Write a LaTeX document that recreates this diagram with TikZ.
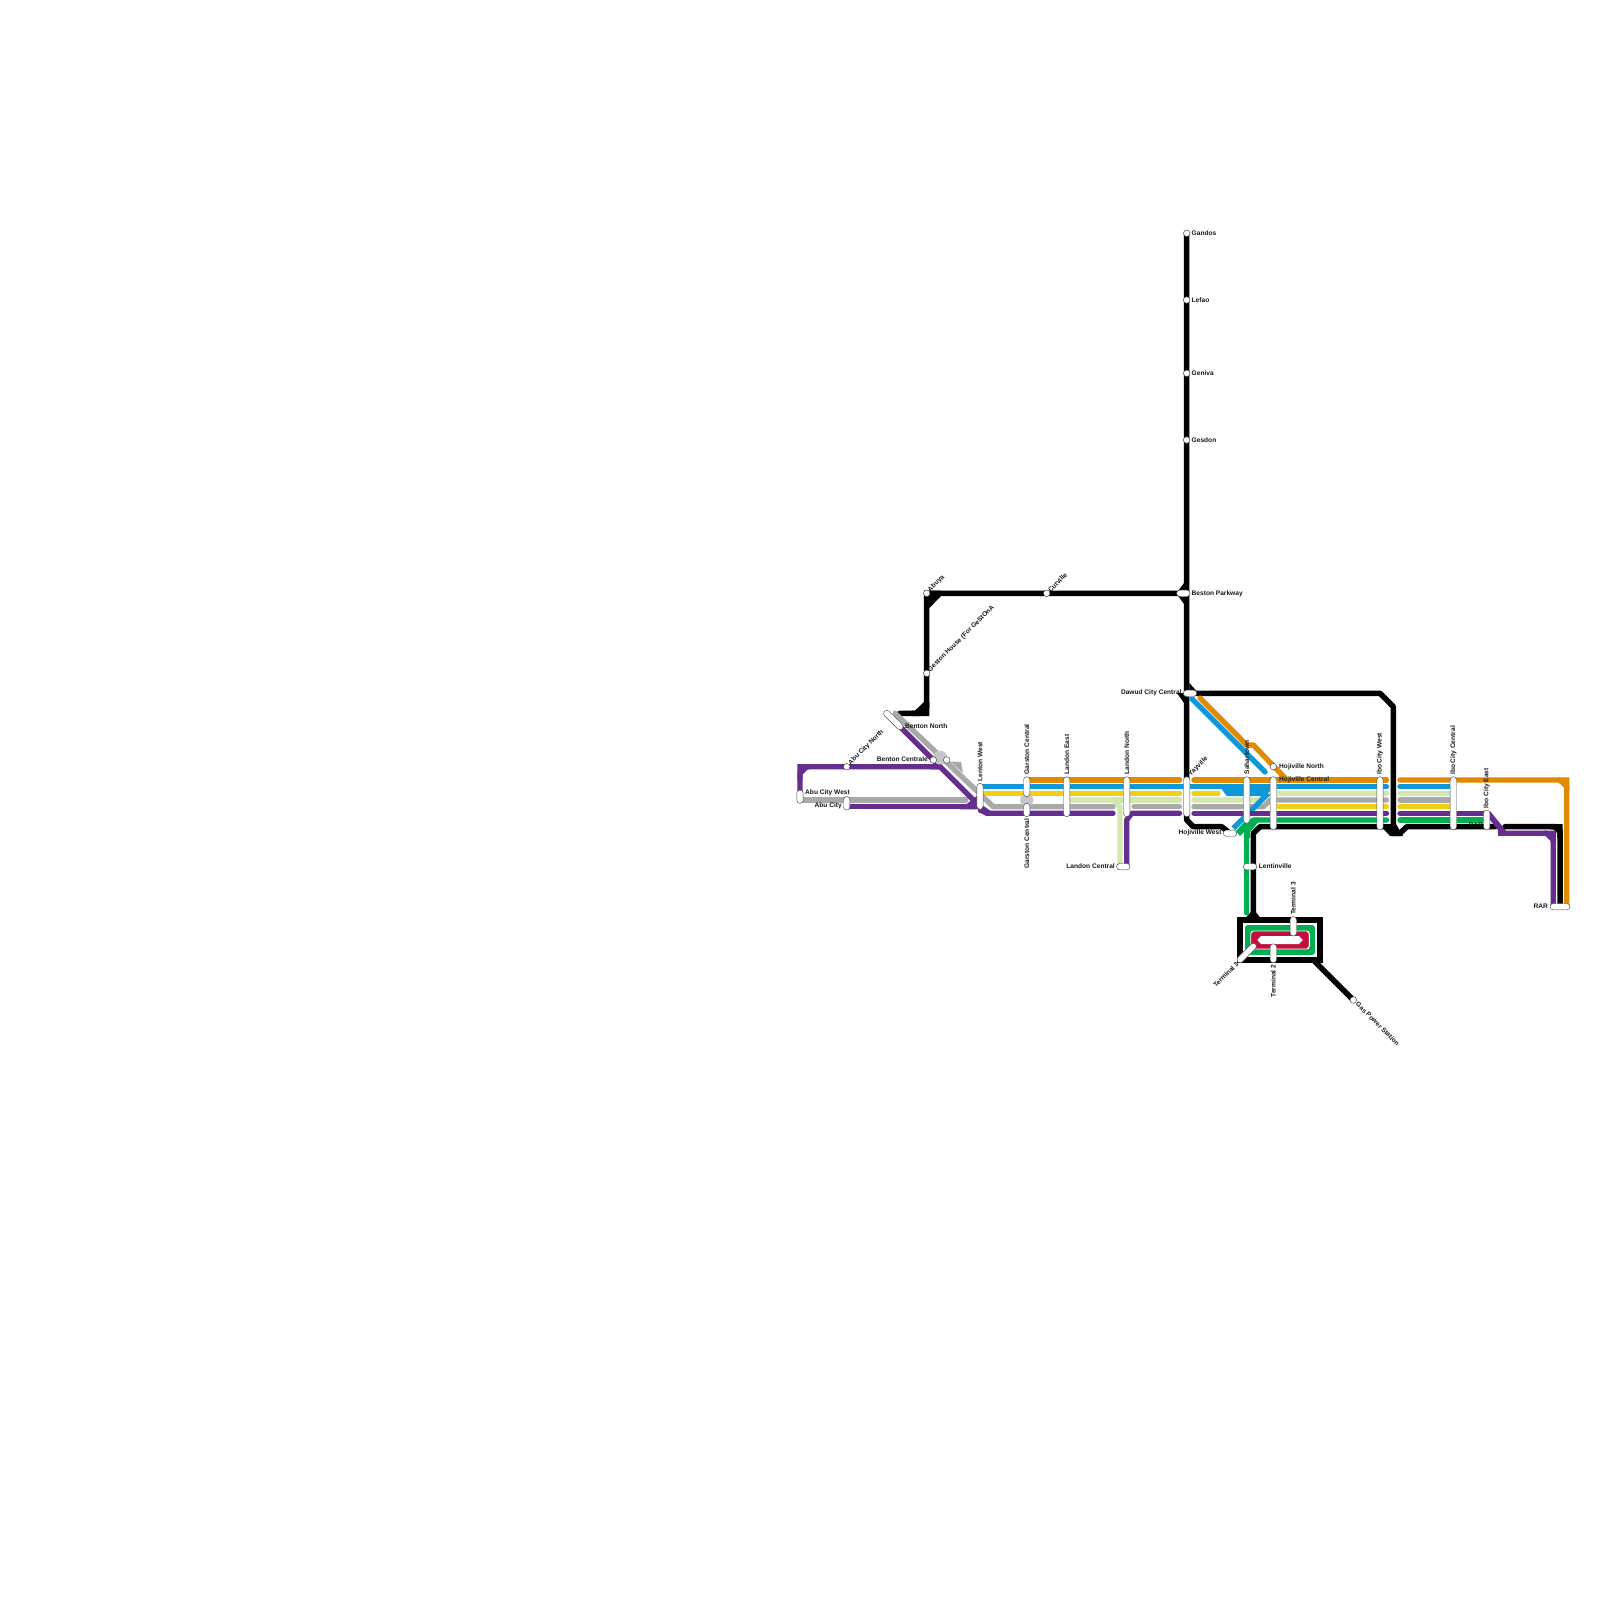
\documentclass[tikz,border=0pt]{standalone}
\usepackage{fontspec}
\setmainfont{Liberation Sans}
\usetikzlibrary{shapes.misc}
\definecolor{lorange}{HTML}{E08A00}
\definecolor{lblue}{HTML}{0F97D8}
\definecolor{lyellow}{HTML}{F2CE14}
\definecolor{llime}{HTML}{D3E6AE}
\definecolor{lgrey}{HTML}{A9A9A9}
\definecolor{lpurple}{HTML}{662D91}
\definecolor{lgreen}{HTML}{00B050}
\definecolor{lcrim}{HTML}{C0103F}
\definecolor{lxfer}{HTML}{C6C6C6}
\tikzset{
  rt/.style={line width=5.3pt,line join=round,line cap=round},
  ro/.style={rt,draw=lorange}, rb/.style={rt,draw=lblue}, ry/.style={rt,draw=lyellow},
  rl/.style={rt,draw=llime}, rg/.style={rt,draw=lgrey}, rp/.style={rt,draw=lpurple},
  re/.style={rt,draw=lgreen}, rk/.style={rt,draw=black,line width=5.5pt},
  stn/.style={circle,draw=black!75,line width=.45pt,fill=white,minimum size=6.6pt,inner sep=0pt},
  pil/.style={rounded rectangle,draw=black!70,line width=.45pt,fill=white,minimum height=6.4pt,inner sep=0pt,outer sep=0pt},
  lab/.style={font=\bfseries\fontsize{6.6}{7}\selectfont,inner sep=0pt,text=black!90},
}
\newcommand{\pl}[5]{\node[pil,minimum width=#4pt,rotate=#5] (#1) at (#2,#3) {};}
\newcommand{\st}[3]{\node[stn] (#1) at (#2,#3) {};}
\begin{document}
\begin{tikzpicture}[x=1pt,y=-1pt]
\useasboundingbox[fill=white] (0,0) rectangle (1600,1600);
% terminus and branch coordinates
\coordinate (cGandos) at (1186.7,233.3);
\coordinate (cAbuya) at (926.7,593.3);
\coordinate (cBeston) at (1186.7,593.3);
\coordinate (cDawud) at (1186.7,693.3);
\coordinate (cHojW) at (1230,833.3);
\coordinate (cGas) at (1353.3,1000);
\coordinate (cAbuW) at (800,797);
\coordinate (cAbu) at (846.7,806.7);
\coordinate (cBenN) at (893.3,720);
\coordinate (cLanC) at (1126.7,866.7);
\coordinate (cLanL) at (1120,866.7);
\coordinate (cRarK) at (1560,906.7);
\coordinate (cRarO) at (1566.7,906.7);
\coordinate (cRarP) at (1553.3,906.7);
% black
\draw[rk] (cGandos) -- (cDawud) -- (1186.7,820) -- (1193.3,826.7) -- (1221.7,826.7) -- (cHojW);
\draw[rk] (cBeston) -- (cAbuya) -- (926.7,706.7) -- (920,713.3) -- (900,713.3) -- (cBenN);
\fill[black] (924,590.5) -- (941,590.5) -- (941,596) -- (929.4,608) -- (924,608) -- cycle;
\fill[black] (924,702) -- (929.4,702) -- (929.4,716) -- (912,716) -- (912,710.6) -- (915,710.6) -- cycle;
\fill[black] (1184,583) -- (1184,594) -- (1176,594) -- cycle;
\fill[black] (1184,604) -- (1184,593) -- (1176,593) -- cycle;
\fill[black] (1189.4,683) -- (1189.4,694) -- (1199,694) -- cycle;
\fill[black] (1184,703) -- (1184,693) -- (1177,693) -- cycle;
\draw[rk] (cDawud) -- (1380,693.3) -- (1393.3,706.7) -- (1393.3,830);
\draw[rk] (1253.3,913) -- (1253.3,833.3) -- (1260,826.7) -- (1385,826.7) -- (1391.7,833.3) -- (1400,833.3) -- (1406.7,826.7) -- (1495,826.7);
\fill[black] (1380,824) -- (1396,824) -- (1403,836) -- (1390,836) -- cycle;
\draw[rk] (1505,826.7) -- (1556,826.7) -- (1560,830.7) -- (cRarK);
\fill[black] (1550,824) -- (1562.7,824) -- (1562.7,838) -- (1557.3,838) -- (1557.3,833) -- (1553,829.3) -- (1550,829.3) -- cycle;
% gas-power branch and terminal box
\draw[rk] (1240,920) -- (1320,920) -- (1320,960) -- (1240,960) -- cycle;
\fill[black] (1253.3,909) -- (1263,921) -- (1243,921) -- cycle;
\fill[black] (1237.2,917.2) -- (1248,917.2) -- (1237.2,928) -- cycle;
\fill[black] (1322.8,917.2) -- (1312,917.2) -- (1322.8,928) -- cycle;
\fill[black] (1237.2,962.8) -- (1248,962.8) -- (1237.2,952) -- cycle;
\fill[black] (1322.8,962.8) -- (1312,962.8) -- (1322.8,950) -- cycle;
\draw[rk] (1315,961.7) -- (cGas);
% green
\draw[re] (1246.7,823.3) -- (1246.7,913);
\draw[re] (1246.7,826.7) -- (1253.3,820) -- (1386.5,820);
\draw[re] (1400,820) -- (1483,820);
\fill[lgreen] (1236,831) -- (1246,820) -- (1258,817.4) -- (1258,822.6) -- (1250,832) -- (1250,838) -- (1244,838) -- (1244,832) -- (1240,836) -- cycle;
\draw[re,line width=6.2pt,line join=round] (1248,928) -- (1312,928) -- (1312,952) -- (1248,952) -- cycle;
% crimson
\fill[lcrim] (1250.7,933.5) -- (1253.2,931) -- (1306.8,931) -- (1309.3,933.5) -- (1309.3,946.5) -- (1306.8,949) -- (1253.2,949) -- (1250.7,946.5) -- cycle;
\draw[white,line width=.9pt] (1250.7,933.5) -- (1253.2,931) -- (1306.8,931) -- (1309.3,933.5) -- (1309.3,946.5) -- (1306.8,949) -- (1253.2,949) -- (1250.7,946.5) -- cycle;
\fill[white] (1257.3,940) -- (1261,936) -- (1299,936) -- (1302.7,940) -- (1299,944) -- (1261,944) -- cycle;
% lime
\draw[rl] (cLanL) -- (1120,806.7) -- (1113.3,800) -- (1071,800);
\draw[rl] (1113.3,800) -- (1179.5,800);
\draw[rl] (1194,800) -- (1260,800) -- (1266.7,793.3) -- (1386.5,793.3);
\draw[rl] (1400,793.3) -- (1453,793.3);
% orange
\draw[ro] (1026.7,780) -- (1179.5,780);
\draw[ro] (1194,780) -- (1386.5,780);
\draw[ro] (1400,780) -- (1560,780) -- (1566.7,786.7) -- (cRarO);
\fill[lorange] (1558,777.4) -- (1569.3,777.4) -- (1569.3,790) -- (1564,790) -- (1564,786) -- (1558,782.6) -- cycle;
\draw[ro] (1200,698) -- (1246.7,745) -- (1253.3,745) -- (1287,780);
% yellow
\draw[ry] (980,793.3) -- (1179.5,793.3);
\draw[ry] (1194,793.3) -- (1218,793.3);
\draw[ry] (1273,806.7) -- (1386.5,806.7);
\draw[ry] (1400,806.7) -- (1453,806.7);
% grey
\draw[rg] (cAbuW) -- (800,800) -- (966,800);
\draw[rg] (895,713.3) -- (993.3,806.7) -- (1113,806.7);
\draw[rg] (1134,806.7) -- (1179.5,806.7);
\draw[rg] (1194,806.7) -- (1263.3,806.7) -- (1270,800) -- (1386.5,800);
\draw[rg] (1400,800) -- (1453,800);
\fill[lgrey] (950,761.5) -- (961,762) -- (963,773) -- cycle;
% blue
\draw[rb] (980,786.7) -- (1386.5,786.7);
\draw[rb] (1400,786.7) -- (1453,786.7);
\draw[rb] (1192,699) -- (1265,772);
\fill[lblue] (1218.3,784.1) -- (1272,784.1) -- (1272,789.2) -- (1264,796) -- (1226.7,796) -- cycle;
\draw[rb,line cap=butt] (1233.3,828.3) -- (1268,793.5);
% purple
\draw[rp] (cAbuW) -- (800,773.3) -- (806.7,766.7) -- (940,766.7);
\fill[lpurple] (797.4,764.1) -- (810,764.1) -- (810,769.3) -- (806,769.3) -- (802.7,773) -- (802.7,780) -- (797.4,780) -- cycle;
\fill[lpurple] (930,769.3) -- (944,769.3) -- (936,760) -- cycle;
\draw[rp] (cBenN) -- (986.7,813.3) -- (1113,813.3);
\draw[rp] (cAbu) -- (975,806.7);
\fill[lpurple] (960,809.3) -- (978,809.3) -- (978,795) -- cycle;
\fill[lpurple] (978,802) -- (978,812) -- (987,816) -- (992,812) -- cycle;
\draw[rp] (cLanC) -- (1126.7,820) -- (1131.7,813.3) -- (1179.5,813.3);
\draw[rp] (1194,813.3) -- (1386.5,813.3);
\draw[rp] (1400,813.3) -- (1486,813.3);
\fill[lpurple] (1490,811) -- (1506,830.7) -- (1506,835.9) -- (1498,835.9) -- (1498,830) -- (1490,820) -- cycle;
\draw[rp] (1503,833.3) -- (1546.7,833.3) -- (1553.3,840) -- (cRarP);
\fill[lpurple] (1544,830.7) -- (1556,830.7) -- (1556,843) -- (1550.6,843) -- (1550.6,840) -- (1546,836) -- (1544,836) -- cycle;
% interchange blobs
\fill[lxfer] (940,757.5) circle (7pt);
\fill[lxfer] (1026.7,800) circle (6.6pt);
% stations
\st{sGandos}{1186.7}{233.3}
\st{sLefao}{1186.7}{300}
\st{sGeniva}{1186.7}{373.3}
\st{sGesdon}{1186.7}{440}
\st{sAbuya}{926.7}{593.3}
\st{sCut}{1046.7}{593.3}
\st{sGeston}{926.7}{673.3}
\st{sAbuN}{846.7}{766.7}
\st{sBenC}{933.3}{760}
\st{sBenE}{946.7}{760}
\st{sHojN}{1273.3}{766.7}
\st{sGas}{1353.3}{1000}
\pl{pBeston}{1183.3}{593.3}{13.5}{0}
\pl{pDawud}{1190}{693.3}{13.5}{0}
\pl{pBenN}{893.3}{720}{25}{-45}
\pl{pAbuW}{800}{796.7}{13.5}{90}
\pl{pAbu}{846.7}{803.3}{13.5}{90}
\pl{pLenton}{980}{796.3}{26}{90}
\pl{pGarU}{1026.7}{786.7}{20}{90}
\pl{pGarL}{1026.7}{810}{13.5}{90}
\pl{pLanE}{1066.7}{796.7}{40}{90}
\pl{pLanN}{1126.7}{796.7}{40}{90}
\pl{pYay}{1186.7}{796.7}{40}{90}
\pl{pSah}{1246.7}{800}{46.6}{90}
\pl{pHojC}{1273.3}{803.3}{53.3}{90}
\pl{pIboW}{1380}{803.3}{53.3}{90}
\pl{pIboC}{1453.3}{803.3}{53.3}{90}
\pl{pIboE}{1486.7}{820}{20}{90}
\pl{pHojW}{1230}{833.3}{13.5}{0}
\pl{pLanC}{1123.3}{866.7}{13.5}{0}
\pl{pLent}{1250}{866.7}{13.5}{0}
\pl{pRar}{1560}{906.7}{20}{0}
\pl{pT3a}{1293.3}{926.3}{19.5}{90}
\pl{pT2}{1273.3}{953.3}{19}{90}
\pl{pT3b}{1246.7}{953}{25}{45}
% labels
\node[lab,anchor=west] (tGandos) at (1191.5,233.3) {Gandos};
\node[lab,anchor=west] (tLefao) at (1191.5,300) {Lefao};
\node[lab,anchor=west] (tGeniva) at (1191.5,373.3) {Geniva};
\node[lab,anchor=west] (tGesdon) at (1191.5,440) {Gesdon};
\node[lab,anchor=west] (tBeston) at (1191.5,593.3) {Beston Parkway};
\node[lab,anchor=east] (tDawud) at (1181.7,693) {Dawud City Central};
\node[lab,anchor=west,rotate=45] (tAbuya) at (929,591) {Abuya};
\node[lab,anchor=west,rotate=45] (tCut) at (1049,591) {Cutville};
\node[lab,anchor=west,rotate=45] (tGeston) at (929,671) {Geston House (For GeStOnA};
\node[lab,anchor=west] (tBenN) at (905,725.7) {Benton North};
\node[lab,anchor=west,rotate=45] (tAbuN) at (849.5,764) {Abu City North};
\node[lab,anchor=east] (tBenC) at (928,759.5) {Benton Centrale};
\node[lab,anchor=west] (tAbuW) at (805,792.5) {Abu City West};
\node[lab,anchor=east] (tAbu) at (842,806) {Abu City};
\node[lab,anchor=west,rotate=90] (tLenton) at (980,781.5) {Lenton West};
\node[lab,anchor=west,rotate=90] (tGarU) at (1026.7,774.5) {Garston Central};
\node[lab,anchor=east,rotate=90] (tGarL) at (1026.7,818.5) {Garston Central};
\node[lab,anchor=west,rotate=90] (tLanE) at (1066.7,774.5) {Landon East};
\node[lab,anchor=west,rotate=90] (tLanN) at (1126.7,774.5) {Landon North};
\node[lab,anchor=west,rotate=45] (tYay) at (1189.5,775) {Yayville};
\node[lab,anchor=west,rotate=90] (tSah) at (1246.7,774.5) {Sahartown};
\node[lab,anchor=west] (tHojN) at (1279,766.7) {Hojiville North};
\node[lab,anchor=west] (tHojC) at (1279,779.5) {Hojiville Central};
\node[lab,anchor=west,rotate=90] (tIboW) at (1380,775) {Ibo City West};
\node[lab,anchor=west,rotate=90] (tIboC) at (1453.3,775) {Ibo City Central};
\node[lab,anchor=west,rotate=90] (tIboE) at (1486.7,808.5) {Ibo City East};
\node[lab,anchor=east] (tRarH) at (1483,825) {RAR};
\node[lab,anchor=east] (tHojW) at (1221.7,833) {Hojiville West};
\node[lab,anchor=east] (tLanC) at (1115,866) {Landon Central};
\node[lab,anchor=west] (tLent) at (1258.7,866) {Lentinville};
\node[lab,anchor=west,rotate=90] (tT3a) at (1293.3,915) {Terminal 3};
\node[lab,anchor=east,rotate=90] (tT2) at (1273.3,964.5) {Terminal 2};
\node[lab,anchor=east,rotate=45] (tT3b) at (1237.5,963) {Terminal 3};
\node[lab,anchor=west,rotate=-45] (tGas) at (1357,1003) {Gas Power Station};
\node[lab,anchor=east] (tRar) at (1548,906.7) {RAR};
\end{tikzpicture}
\end{document}
